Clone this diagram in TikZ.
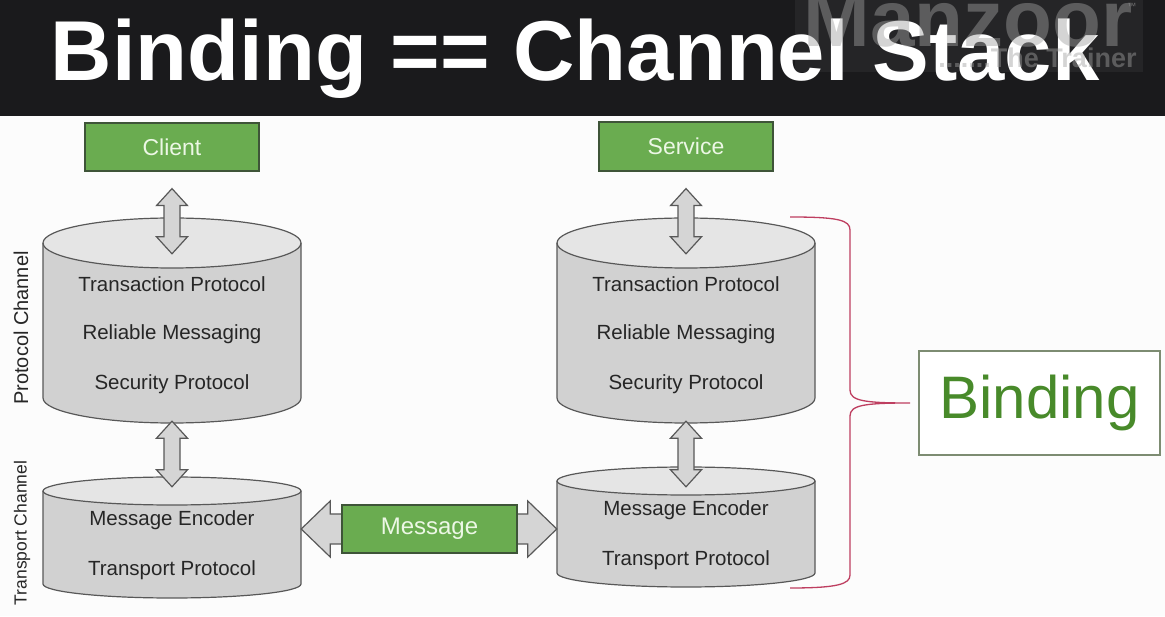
\documentclass[tikz,border=0pt]{standalone}
\usepackage{fontspec}
\setmainfont{Liberation Sans}
\usetikzlibrary{calc}
\definecolor{bar}{RGB}{26,26,28}
\definecolor{pagebg}{RGB}{252,252,252}
\definecolor{boxgreen}{RGB}{106,172,80}
\definecolor{boxedge}{RGB}{62,84,56}
\definecolor{boxtext}{RGB}{236,247,229}
\definecolor{cylbody}{RGB}{209,209,209}
\definecolor{cyltop}{RGB}{229,229,229}
\definecolor{cyledge}{RGB}{88,88,88}
\definecolor{arrfill}{RGB}{213,213,213}
\definecolor{bracered}{RGB}{190,62,96}
\definecolor{bindgreen}{RGB}{72,138,42}
\definecolor{bindedge}{RGB}{125,140,114}
\definecolor{txt}{RGB}{38,38,38}
\definecolor{wmgray}{RGB}{160,160,160}

\newcommand\mycyl[5]{% name, cx, Ytop, Ybot, ry
  \path[fill=cylbody] ({#2-129},#3) -- ({#2-129},#4) arc[start angle=180,end angle=360,x radius=129,y radius=#5] -- ({#2+129},#3) -- cycle;
  \path[fill=cyltop,draw=cyledge,line width=1.2pt] (#2,#3) ellipse[x radius=129,y radius=#5];
  \draw[draw=cyledge,line width=1.2pt] ({#2-129},#3) -- ({#2-129},#4) arc[start angle=180,end angle=360,x radius=129,y radius=#5] -- ({#2+129},#3);
  \node[inner sep=0pt, minimum width=258pt, minimum height={#3-#4+2*#5}] (#1) at (#2,{(#3+#4)/2}) {};
}
\newcommand\blockV[2]{\draw[blockarrow] let \p1=#1, \p2=#2 in
  (\x1,\y1) -- (\x1+15.5pt,\y1-17pt) -- (\x1+8pt,\y1-17pt) -- (\x1+8pt,\y2+17pt) -- (\x1+15.5pt,\y2+17pt)
  -- (\x1,\y2) -- (\x1-15.5pt,\y2+17pt) -- (\x1-8pt,\y2+17pt) -- (\x1-8pt,\y1-17pt) -- (\x1-15.5pt,\y1-17pt) -- cycle;}
\newcommand\blockH[2]{\draw[blockarrow] let \p1=#1, \p2=#2 in
  (\x1,\y1) -- (\x1+29pt,\y1+28pt) -- (\x1+29pt,\y1+15pt) -- (\x2-29pt,\y1+15pt) -- (\x2-29pt,\y1+28pt)
  -- (\x2,\y1) -- (\x2-29pt,\y1-28pt) -- (\x2-29pt,\y1-15pt) -- (\x1+29pt,\y1-15pt) -- (\x1+29pt,\y1-28pt) -- cycle;}

\begin{document}
\begin{tikzpicture}[x=1pt,y=1pt,
  greenbox/.style={draw=boxedge, fill=boxgreen, line width=1.2pt, minimum width=174pt, minimum height=48pt, inner sep=0pt, text=boxtext, font=\fontsize{23}{28}\selectfont},
  cyltext/.style={text=txt, font=\fontsize{20.5}{24}\selectfont, inner sep=0pt},
  sidelabel/.style={text=txt, rotate=90, inner sep=0pt},
  blockarrow/.style={draw=cyledge, fill=arrfill, line width=1.2pt, line join=miter},
  bracepath/.style={draw=bracered, line width=1.3pt}]
\useasboundingbox (0,0) rectangle (1165,616);
\clip (0,0) rectangle (1165,616);
\fill[pagebg] (0,0) rectangle (1165,616);

% title bar
\fill[bar] (0,500) rectangle (1165,616);
\fill[white, opacity=0.05] (795,544) rectangle (1143,616);
\node[anchor=base, text=white, font=\fontsize{85}{90}\selectfont\bfseries] (title) at (575,535) {Binding == Channel Stack};
\node[anchor=base, text=wmgray, opacity=0.45, font=\fontsize{80}{80}\selectfont\bfseries] (wm) at (968,569) {Manzoor};
\node[anchor=base east, text=wmgray, opacity=0.45, font=\fontsize{27}{27}\selectfont\bfseries] (wm2) at (1140,548) {.......The Trainer};
\node[anchor=north east, text=wmgray, opacity=0.6, font=\fontsize{9}{9}\selectfont] (tm) at (1140,616) {™};

% end points
\node[greenbox] (client) at (172,469) {Client};
\node[greenbox, minimum height=49pt] (service) at (686,469.5) {Service};

% cylinders
\mycyl{lt}{172}{373}{218}{25}
\mycyl{rt}{686}{373}{218}{25}
\mycyl{lb}{172}{125}{32}{14}
\mycyl{rb}{686}{135}{43}{14}

\node[cyltext] (lt1) at (172,332) {Transaction Protocol};
\node[cyltext] (lt2) at (172,282) {Reliable Messaging};
\node[cyltext] (lt3) at (172,232) {Security Protocol};
\node[cyltext] (rt1) at (686,332) {Transaction Protocol};
\node[cyltext] (rt2) at (686,282) {Reliable Messaging};
\node[cyltext] (rt3) at (686,232) {Security Protocol};
\node[cyltext] (lb1) at (172,96) {Message Encoder};
\node[cyltext] (lb2) at (172,46) {Transport Protocol};
\node[cyltext] (rb1) at (686,106) {Message Encoder};
\node[cyltext] (rb2) at (686,56) {Transport Protocol};

% block arrows
\blockV{($(client.south)+(0,-17)$)}{($(lt.north)+(0,-36)$)}
\blockV{($(lt.south)+(0,2)$)}{($(lb.north)+(0,-10)$)}
\blockV{($(service.south)+(0,-17)$)}{($(rt.north)+(0,-36)$)}
\blockV{($(rt.south)+(0,2)$)}{($(rb.north)+(0,-20)$)}
\coordinate (msgc) at (429.5,87);
\blockH{(lb.east |- msgc)}{(rb.west |- msgc)}
\node[greenbox, minimum width=175pt, font=\fontsize{24}{28}\selectfont] (message) at (msgc) {\raisebox{-2pt}{Message}};

% side labels
\node[sidelabel, font=\fontsize{20}{20}\selectfont] (pc) at (21,288) {Protocol Channel};
\node[sidelabel, font=\fontsize{17.5}{17.5}\selectfont] (tc) at (22,83) {Transport Channel};

% binding
\node[draw=bindedge, fill=white, line width=1.3pt, minimum width=241pt, minimum height=104pt, inner sep=0pt, text=bindgreen, font=\fontsize{60}{60}\selectfont] (binding) at (1039.5,213) {Binding};
\coordinate (bracetip) at (910,213);
\draw[bracepath] (790,399) .. controls (838,399) and (850,396) .. (850,386) -- (850,226)
  .. controls (850,215) and (865,213) .. (bracetip)
  .. controls (865,213) and (850,211) .. (850,200) -- (850,41)
  .. controls (850,32) and (838,28) .. (790,28);
\end{tikzpicture}
\end{document}
